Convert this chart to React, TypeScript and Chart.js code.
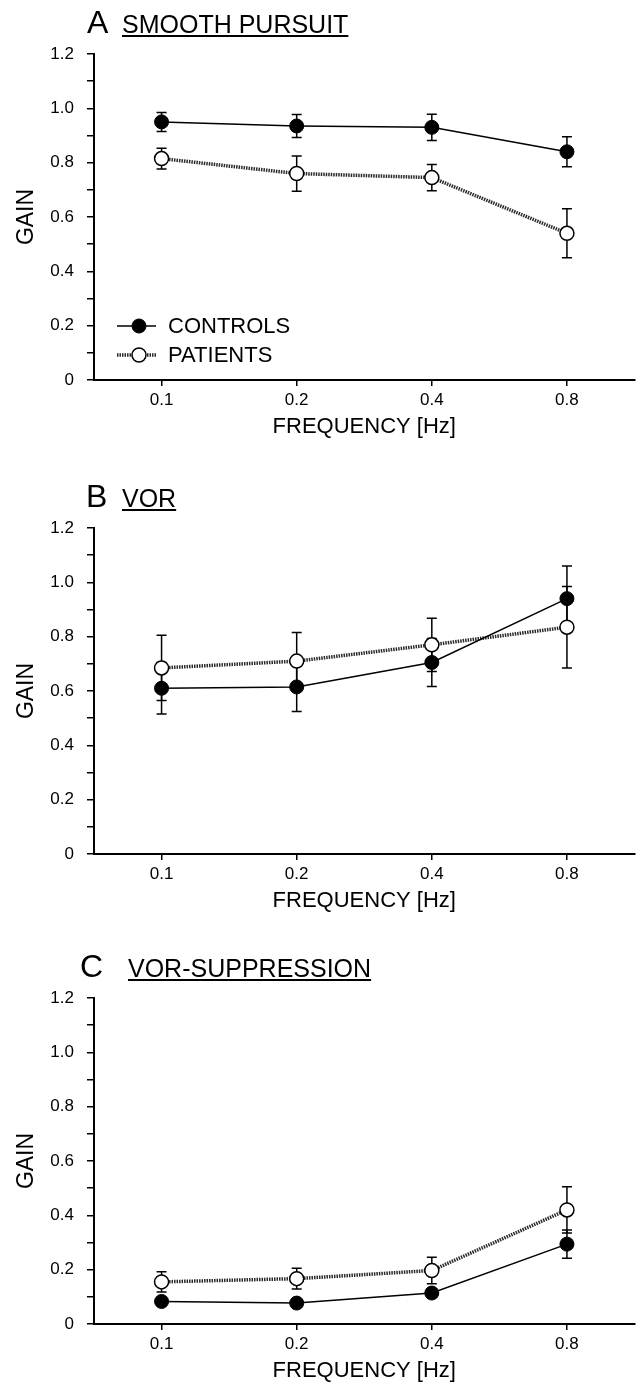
import React, { useEffect, useRef } from 'react';
import { Chart, registerables } from 'chart.js';

Chart.register(...registerables);

// ---------- data ----------
const frequencies = ['0.1', '0.2', '0.4', '0.8'];
const yTickLabels = ['0', '0.2', '0.4', '0.6', '0.8', '1.0', '1.2'];
const seriesNames = ['CONTROLS', 'PATIENTS'];
const panelLetters = ['A', 'B', 'C'];
const panelTitles = ['SMOOTH PURSUIT', 'VOR', 'VOR-SUPPRESSION'];
const xAxisTitle = 'FREQUENCY [Hz]';
const yAxisTitle = 'GAIN';

const pursuitControls = [0.95, 0.935, 0.93, 0.84];
const pursuitControlsSD = [0.035, 0.042, 0.048, 0.055];
const pursuitPatients = [0.815, 0.76, 0.745, 0.54];
const pursuitPatientsSD = [0.038, 0.065, 0.048, 0.09];

const vorControls = [0.61, 0.615, 0.705, 0.94];
const vorControlsSD = [0.095, 0.09, 0.088, 0.12];
const vorPatients = [0.685, 0.71, 0.77, 0.835];
const vorPatientsSD = [0.12, 0.105, 0.098, 0.15];

const suppControls = [0.083, 0.077, 0.114, 0.294];
const suppControlsSD = [0.012, 0.012, 0.015, 0.052];
const suppPatients = [0.155, 0.167, 0.197, 0.42];
const suppPatientsSD = [0.037, 0.038, 0.049, 0.085];

// ---------- styling / layout ----------
const FONT = '"Liberation Sans", Arial, Helvetica, sans-serif';
const CANVAS_W = 643;
const CANVAS_H = 445;

const panels = [
  { top: 0, letter: panelLetters[0], title: panelTitles[0], letterX: 87, titleX: 122, legend: true,
    controls: pursuitControls, controlsSD: pursuitControlsSD, patients: pursuitPatients, patientsSD: pursuitPatientsSD },
  { top: 474, letter: panelLetters[1], title: panelTitles[1], letterX: 86, titleX: 122, legend: false,
    controls: vorControls, controlsSD: vorControlsSD, patients: vorPatients, patientsSD: vorPatientsSD },
  { top: 944, letter: panelLetters[2], title: panelTitles[2], letterX: 80, titleX: 128, legend: false,
    controls: suppControls, controlsSD: suppControlsSD, patients: suppPatients, patientsSD: suppPatientsSD },
];

const controlsStyle = {
  borderColor: '#000',
  borderWidth: 1.5,
  pointRadius: 7,
  pointBackgroundColor: '#000',
  pointBorderColor: '#000',
  pointBorderWidth: 1,
};
const patientsStyle = {
  borderColor: '#2a2a2a',
  borderWidth: 3.5,
  borderDash: [1.5, 1],
  pointRadius: 7,
  pointBackgroundColor: '#fff',
  pointBorderColor: '#000',
  pointBorderWidth: 1.5,
};

// ---------- plugins ----------
const errorBarPlugin = {
  id: 'errorBars',
  beforeDatasetsDraw(chart: any) {
    const ctx = chart.ctx;
    const yScale = chart.scales.y;
    ctx.save();
    ctx.strokeStyle = '#000';
    ctx.lineWidth = 1.5;
    ctx.setLineDash([]);
    chart.data.datasets.forEach((ds: any, di: number) => {
      const meta = chart.getDatasetMeta(di);
      const errs = ds.errors || [];
      meta.data.forEach((pt: any, i: number) => {
        const v = ds.data[i];
        const e = errs[i];
        if (e == null) return;
        const x = pt.x;
        const yTop = yScale.getPixelForValue(v + e);
        const yBot = yScale.getPixelForValue(v - e);
        ctx.beginPath();
        ctx.moveTo(x, yTop);
        ctx.lineTo(x, yBot);
        ctx.moveTo(x - 5, yTop);
        ctx.lineTo(x + 5, yTop);
        ctx.moveTo(x - 5, yBot);
        ctx.lineTo(x + 5, yBot);
        ctx.stroke();
      });
    });
    ctx.restore();
  },
};

const panelTitlePlugin = {
  id: 'panelTitle',
  afterDraw(chart: any, _args: any, opts: any) {
    if (!opts || !opts.letter) return;
    const ctx = chart.ctx;
    const baseline = chart.chartArea.top - 21;
    ctx.save();
    ctx.fillStyle = '#000';
    ctx.textBaseline = 'alphabetic';
    ctx.textAlign = 'left';
    ctx.font = `32px ${FONT}`;
    ctx.fillText(opts.letter, opts.letterX, baseline);
    ctx.font = `25px ${FONT}`;
    ctx.fillText(opts.title, opts.titleX, baseline);
    const w = ctx.measureText(opts.title).width;
    ctx.strokeStyle = '#000';
    ctx.lineWidth = 2;
    ctx.beginPath();
    ctx.moveTo(opts.titleX, baseline + 3);
    ctx.lineTo(opts.titleX + w, baseline + 3);
    ctx.stroke();
    ctx.restore();
  },
};

const panelLegendPlugin = {
  id: 'panelLegend',
  afterDraw(chart: any, _args: any, opts: any) {
    if (!opts || !opts.show) return;
    const ctx = chart.ctx;
    const { left, bottom } = chart.chartArea;
    ctx.save();
    chart.data.datasets.forEach((ds: any, i: number) => {
      const y = bottom - 54 + i * 29;
      const x0 = left + 23;
      const x1 = left + 62;
      const mx = left + 45;
      ctx.strokeStyle = ds.borderColor;
      ctx.lineWidth = ds.borderWidth;
      ctx.setLineDash(ds.borderDash || []);
      ctx.beginPath();
      ctx.moveTo(x0, y);
      ctx.lineTo(x1, y);
      ctx.stroke();
      ctx.setLineDash([]);
      ctx.beginPath();
      ctx.arc(mx, y, ds.pointRadius, 0, Math.PI * 2);
      ctx.fillStyle = ds.pointBackgroundColor;
      ctx.fill();
      ctx.lineWidth = ds.pointBorderWidth;
      ctx.strokeStyle = ds.pointBorderColor;
      ctx.stroke();
      ctx.fillStyle = '#000';
      ctx.font = `22px ${FONT}`;
      ctx.textBaseline = 'middle';
      ctx.textAlign = 'left';
      ctx.fillText(ds.label, left + 74, y + 1);
    });
    ctx.restore();
  },
};

function Panel({ cfg }: { cfg: any }) {
  const ref = useRef<HTMLCanvasElement | null>(null);
  useEffect(() => {
    if (!ref.current) return;
    const chart = new Chart(ref.current, {
      type: 'line',
      data: {
        labels: frequencies,
        datasets: [
          { label: seriesNames[0], data: cfg.controls, errors: cfg.controlsSD, ...controlsStyle } as any,
          { label: seriesNames[1], data: cfg.patients, errors: cfg.patientsSD, ...patientsStyle } as any,
        ],
      },
      options: {
        animation: false,
        responsive: false,
        devicePixelRatio: 1,
        layout: { padding: { top: 54, right: 2, bottom: 5, left: 0 } },
        plugins: {
          legend: { display: false },
          tooltip: { enabled: false },
          panelTitle: { letter: cfg.letter, title: cfg.title, letterX: cfg.letterX, titleX: cfg.titleX },
          panelLegend: { show: cfg.legend },
        } as any,
        scales: {
          x: {
            type: 'category',
            offset: true,
            border: { display: true, color: '#000', width: 2 },
            grid: { display: true, drawOnChartArea: false, drawTicks: true, tickLength: 6, color: '#000', lineWidth: 1.5, offset: false },
            ticks: { color: '#000', font: { family: FONT, size: 17 }, padding: 4 },
            title: { display: true, text: xAxisTitle, color: '#000', font: { family: FONT, size: 22 }, padding: { top: 0, bottom: 0 } },
            afterFit(s: any) { s.height = 60; },
          },
          y: {
            min: 0,
            max: 1.2,
            border: { display: true, color: '#000', width: 2 },
            grid: { display: true, drawOnChartArea: false, drawTicks: true, tickLength: 7, color: '#000', lineWidth: 1.5 },
            ticks: {
              stepSize: 0.1,
              autoSkip: false,
              color: '#000',
              font: { family: FONT, size: 17 },
              padding: 13,
              callback: (_v: any, i: number) => (i % 2 === 0 ? yTickLabels[i / 2] : ''),
            },
            title: { display: true, text: yAxisTitle, color: '#000', font: { family: FONT, size: 23 }, padding: { top: 13, bottom: 0 } },
            afterFit(s: any) { s.width = 94; },
          },
        },
      } as any,
      plugins: [errorBarPlugin, panelTitlePlugin, panelLegendPlugin] as any,
    });
    return () => chart.destroy();
  }, []);
  return (
    <canvas
      ref={ref}
      width={CANVAS_W}
      height={CANVAS_H}
      style={{ position: 'absolute', left: 0, top: cfg.top, width: CANVAS_W, height: CANVAS_H, display: 'block' }}
    />
  );
}

export default function App() {
  return (
    <div style={{ position: 'absolute', left: 0, top: 0, width: CANVAS_W, height: 1389, background: '#fff' }}>
      {panels.map((p) => (
        <Panel key={p.letter} cfg={p} />
      ))}
    </div>
  );
}
